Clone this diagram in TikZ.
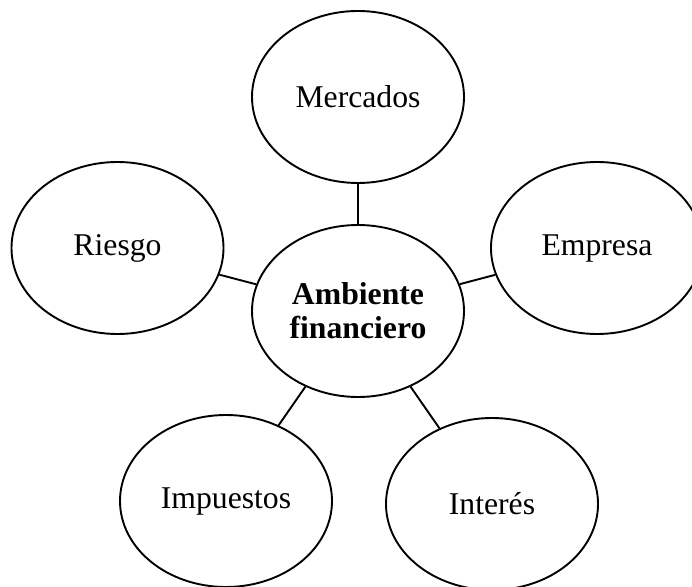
\documentclass[tikz,border=0pt]{standalone}
\usepackage{fontspec}
\setmainfont{Liberation Serif}
\usetikzlibrary{shapes.geometric}
\begin{document}
\begin{tikzpicture}[x=1pt,y=1pt,
  bubble/.style={ellipse,draw,line width=1.9pt,minimum width=212pt,minimum height=172pt,inner sep=0pt,align=center,font=\fontsize{31.7}{34}\selectfont},
  link/.style={line width=1.9pt}]
\useasboundingbox (0,0) rectangle (692,586);
\node[bubble] (c) at (358,275) {\textbf{Ambiente}\\\textbf{financiero}};
\node[bubble] (m) at (358,489) {Mercados};
\node[bubble] (r) at (117.5,338) {Riesgo};
\node[bubble] (e) at (597,338) {Empresa};
\node[bubble] (i) at (226,85) {Impuestos};
\node[bubble] (t) at (492,82) {Interés};
\draw[link] (c) -- (m);
\draw[link] (c) -- (r);
\draw[link] (c) -- (e);
\draw[link] (c) -- (i);
\draw[link] (c) -- (t);
\end{tikzpicture}
\end{document}
